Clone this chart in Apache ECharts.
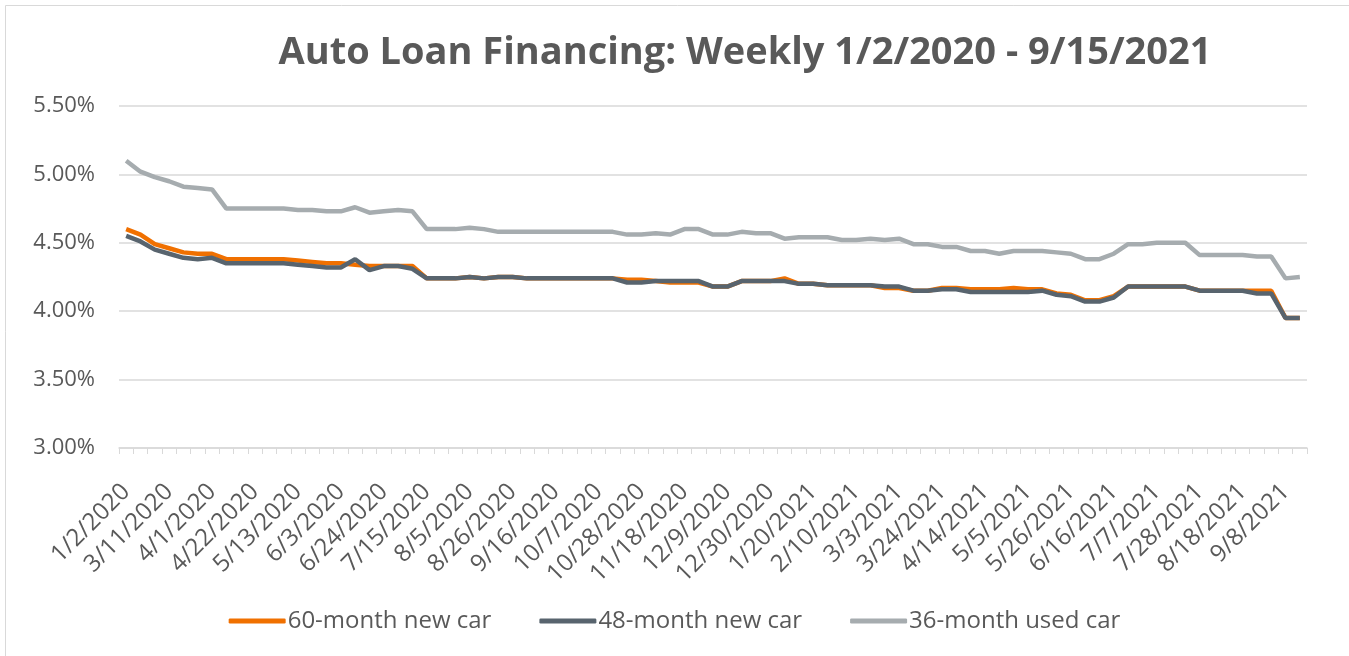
<!DOCTYPE html>
<html>
<head>
<meta charset="utf-8">
<script src="https://cdn.jsdelivr.net/npm/echarts@6/dist/echarts.min.js"></script>
<style>
html,body{margin:0;padding:0;background:#fff;}
#chart{width:1349px;height:656px;}
</style>
</head>
<body>
<div id="chart"></div>
<script>
// Category dates: first three points, then weekly from 3/11/2020
const firstDates = ['1/2/2020', '2/26/2020', '3/4/2020'];
const weeklyStart = [2020, 2, 11]; // 3/11/2020
const weeklyCount = 80;            // 3/11/2020 ... 9/15/2021

const seriesNames = ['60-month new car', '48-month new car', '36-month used car'];

const newCar60 = [
  4.60, 4.56, 4.49, 4.46, 4.43, 4.42, 4.42, 4.38, 4.38, 4.38,
  4.38, 4.38, 4.37, 4.36, 4.35, 4.35, 4.34, 4.33, 4.33, 4.33,
  4.33, 4.24, 4.24, 4.24, 4.25, 4.24, 4.25, 4.25, 4.24, 4.24,
  4.24, 4.24, 4.24, 4.24, 4.24, 4.23, 4.23, 4.22, 4.21, 4.21,
  4.21, 4.18, 4.18, 4.22, 4.22, 4.22, 4.24, 4.20, 4.20, 4.19,
  4.19, 4.19, 4.19, 4.17, 4.17, 4.15, 4.15, 4.17, 4.17, 4.16,
  4.16, 4.16, 4.17, 4.16, 4.16, 4.13, 4.12, 4.08, 4.08, 4.11,
  4.18, 4.18, 4.18, 4.18, 4.18, 4.15, 4.15, 4.15, 4.15, 4.15,
  4.15, 3.95, 3.95
];

const newCar48 = [
  4.55, 4.51, 4.45, 4.42, 4.39, 4.38, 4.39, 4.35, 4.35, 4.35,
  4.35, 4.35, 4.34, 4.33, 4.32, 4.32, 4.38, 4.30, 4.33, 4.33,
  4.31, 4.24, 4.24, 4.24, 4.25, 4.24, 4.25, 4.25, 4.24, 4.24,
  4.24, 4.24, 4.24, 4.24, 4.24, 4.21, 4.21, 4.22, 4.22, 4.22,
  4.22, 4.18, 4.18, 4.22, 4.22, 4.22, 4.22, 4.20, 4.20, 4.19,
  4.19, 4.19, 4.19, 4.18, 4.18, 4.15, 4.15, 4.16, 4.16, 4.14,
  4.14, 4.14, 4.14, 4.14, 4.15, 4.12, 4.11, 4.07, 4.07, 4.10,
  4.18, 4.18, 4.18, 4.18, 4.18, 4.15, 4.15, 4.15, 4.15, 4.13,
  4.13, 3.95, 3.95
];

const usedCar36 = [
  5.10, 5.02, 4.98, 4.95, 4.91, 4.90, 4.89, 4.75, 4.75, 4.75,
  4.75, 4.75, 4.74, 4.74, 4.73, 4.73, 4.76, 4.72, 4.73, 4.74,
  4.73, 4.60, 4.60, 4.60, 4.61, 4.60, 4.58, 4.58, 4.58, 4.58,
  4.58, 4.58, 4.58, 4.58, 4.58, 4.56, 4.56, 4.57, 4.56, 4.60,
  4.60, 4.56, 4.56, 4.58, 4.57, 4.57, 4.53, 4.54, 4.54, 4.54,
  4.52, 4.52, 4.53, 4.52, 4.53, 4.49, 4.49, 4.47, 4.47, 4.44,
  4.44, 4.42, 4.44, 4.44, 4.44, 4.43, 4.42, 4.38, 4.38, 4.42,
  4.49, 4.49, 4.50, 4.50, 4.50, 4.41, 4.41, 4.41, 4.41, 4.40,
  4.40, 4.24, 4.25
];

const yMin = 3.0, yMax = 5.5, yStep = 0.5;

const categories = firstDates.slice();
for (let k = 0; k < weeklyCount; k++) {
  const d = new Date(Date.UTC(weeklyStart[0], weeklyStart[1], weeklyStart[2] + 7 * k));
  categories.push((d.getUTCMonth() + 1) + '/' + d.getUTCDate() + '/' + d.getUTCFullYear());
}

const colors = ['#F07000', '#58646E', '#A6ACAF'];
const textColor = '#595959';
const fontFam = '"Open Sans", sans-serif';

const chart = echarts.init(document.getElementById('chart'), null, {renderer: 'canvas'});
chart.setOption({
  animation: false,
  backgroundColor: '#ffffff',
  color: colors,
  title: {
    text: 'Auto Loan Financing: Weekly 1/2/2020 - 9/15/2021',
    left: 740,
    textAlign: 'center',
    top: 29,
    textStyle: {color: textColor, fontSize: 38, fontWeight: 'bold', fontFamily: fontFam}
  },
  graphic: [{
    type: 'rect',
    shape: {x: 5.5, y: 5.5, width: 1400, height: 1000},
    style: {fill: 'none', stroke: '#D9D9D9', lineWidth: 1},
    silent: true
  }],
  legend: {
    bottom: 18,
    left: 'center',
    itemWidth: 57,
    itemHeight: 5,
    itemGap: 48,
    icon: 'roundRect',
    textStyle: {color: textColor, fontSize: 24, fontFamily: fontFam, padding: [0, 0, 0, -3]},
    data: seriesNames
  },
  grid: {left: 119, right: 42, top: 106, bottom: 208, containLabel: false},
  xAxis: {
    type: 'category',
    data: categories,
    boundaryGap: true,
    axisLine: {lineStyle: {color: '#D9D9D9', width: 1.5}},
    axisTick: {show: true, interval: 0, length: 6, lineStyle: {color: '#D9D9D9'}},
    axisLabel: {interval: 2, rotate: 45, color: textColor, fontSize: 24, fontFamily: fontFam, margin: 40}
  },
  yAxis: {
    type: 'value',
    min: yMin, max: yMax, interval: yStep,
    axisLine: {show: false},
    axisTick: {show: false},
    splitLine: {lineStyle: {color: '#D9D9D9', width: 1.5}},
    axisLabel: {
      color: textColor, fontSize: 22, fontFamily: fontFam, margin: 24,
      formatter: v => v.toFixed(2) + '%'
    }
  },
  series: [
    {name: seriesNames[0], type: 'line', data: newCar60, showSymbol: false, symbol: 'none',
     lineStyle: {width: 4.5, color: colors[0]}, itemStyle: {color: colors[0]}},
    {name: seriesNames[1], type: 'line', data: newCar48, showSymbol: false, symbol: 'none',
     lineStyle: {width: 4.5, color: colors[1]}, itemStyle: {color: colors[1]}},
    {name: seriesNames[2], type: 'line', data: usedCar36, showSymbol: false, symbol: 'none',
     lineStyle: {width: 4.5, color: colors[2]}, itemStyle: {color: colors[2]}}
  ]
});
</script>
</body>
</html>
